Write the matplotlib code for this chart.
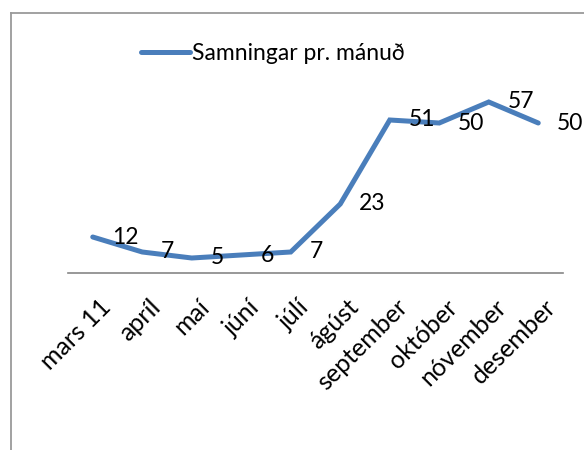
import matplotlib.pyplot as plt
from matplotlib.lines import Line2D
from matplotlib.transforms import ScaledTranslation

plt.rcParams['font.family'] = ['Lato', 'DejaVu Sans']

months = ['mars 11', 'apríl', 'maí', 'júní', 'júlí', 'ágúst',
          'september', 'október', 'nóvember', 'desember']
values = [12, 7, 5, 6, 7, 23, 51, 50, 57, 50]
series_name = 'Samningar pr. mánuð'

blue = '#4a7ebb'
fs = 16.5

fig = plt.figure(figsize=(5.84, 4.5), dpi=100)
ax = fig.add_axes([68 / 584, (450 - 273) / 450, 495 / 584, 180 / 450])

x = list(range(len(months)))
ax.plot(x, values, color=blue, lw=3.6, solid_capstyle='round',
        solid_joinstyle='miter', label=series_name, clip_on=False)

# data labels to the right of each point
for xi, v in zip(x, values):
    ax.annotate(str(v), (xi, v), xytext=(19, 0), textcoords='offset pixels',
                ha='left', va='center', fontsize=fs, color='black')

ax.set_xlim(-0.5, len(months) - 0.5)
ax.set_ylim(0, 60)
ax.set_yticks([])
ax.set_xticks(x)
ax.set_xticklabels(months, rotation=45, ha='right', rotation_mode='anchor',
                   fontsize=18)
ax.tick_params(axis='x', length=0, pad=16)
shift = ScaledTranslation(0.06, 0, fig.dpi_scale_trans)
for lab in ax.get_xticklabels():
    lab.set_transform(lab.get_transform() + shift)
for s in ['top', 'right', 'left']:
    ax.spines[s].set_visible(False)
ax.spines['bottom'].set_color('#868686')
ax.spines['bottom'].set_linewidth(1.2)

leg = fig.legend(handles=[Line2D([], [], color=blue, lw=3.6, solid_capstyle='round')],
                 labels=[series_name], loc='center', bbox_to_anchor=(273 / 584, 1 - 54 / 450),
                 frameon=False, fontsize=fs, handlelength=2.1, handletextpad=0.1)

# chart area border (cropped at right and bottom)
fig.add_artist(Line2D([11 / 584, 11 / 584], [0, 1 - 13 / 450], color='#9a9a9a', lw=1.3,
                      transform=fig.transFigure))
fig.add_artist(Line2D([11 / 584, 1], [1 - 13 / 450, 1 - 13 / 450], color='#9a9a9a', lw=1.3,
                      transform=fig.transFigure))

fig.savefig('out.png', dpi=100)
